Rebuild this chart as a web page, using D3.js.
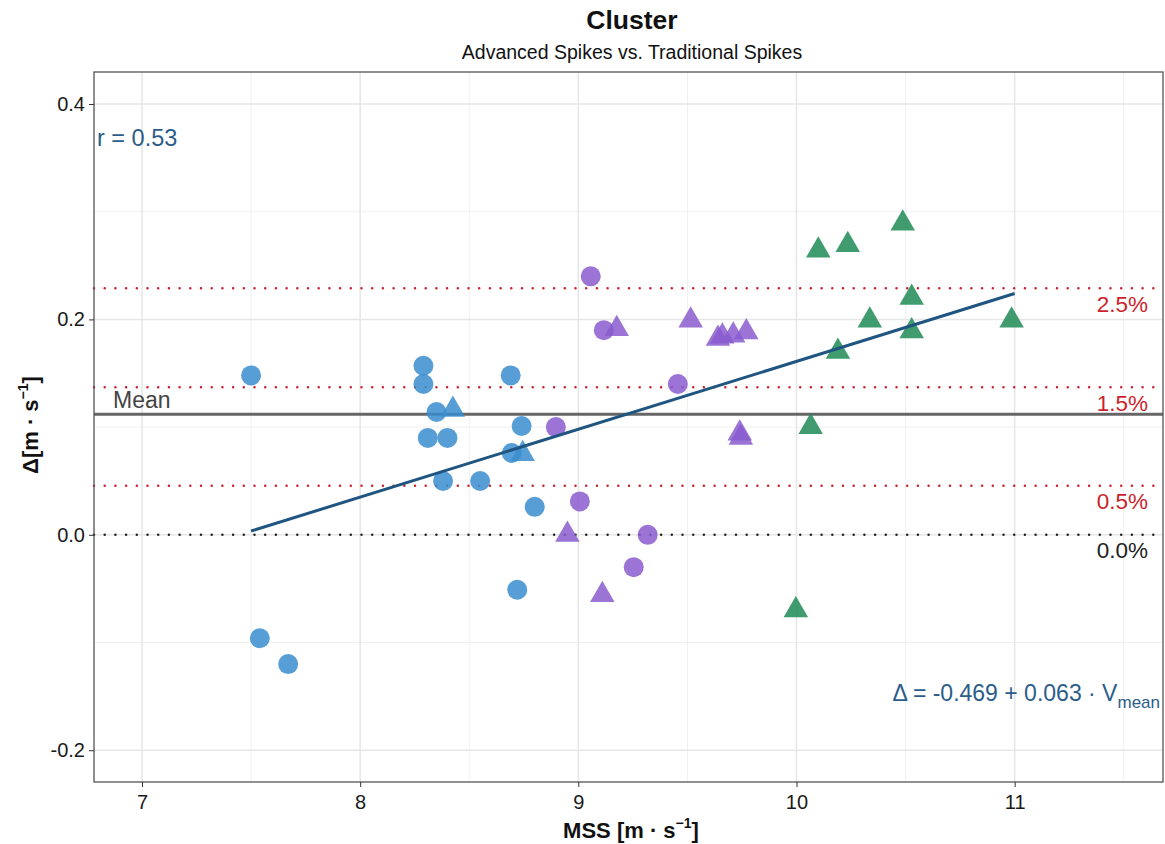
<!DOCTYPE html>
<html>
<head>
<meta charset="utf-8">
<script src="https://cdn.jsdelivr.net/npm/d3@7"></script>
<style>
  body { margin: 0; background: #fff; }
  svg { font-family: "Liberation Sans", Arial, sans-serif; }
</style>
</head>
<body>
<div id="chart"></div>
<script>
const width = 1165;
const height = 844;
const margin = { top: 72, right: 2, bottom: 62, left: 94 };

// data (MSS, delta)
const blueCircleX = [7.50, 7.54, 7.67, 8.29, 8.29, 8.35, 8.31, 8.40, 8.38, 8.55, 8.69, 8.74, 8.695, 8.80, 8.72];
const blueCircleY = [0.148, -0.096, -0.120, 0.157, 0.140, 0.114, 0.090, 0.090, 0.050, 0.050, 0.148, 0.101, 0.076, 0.026, -0.051];
const blueTriX = [8.425, 8.745];
const blueTriY = [0.118, 0.077];
const purpleCircleX = [9.057, 9.117, 9.456, 8.897, 9.007, 9.254, 9.318];
const purpleCircleY = [0.240, 0.190, 0.140, 0.100, 0.031, -0.030, 0.000];
const purpleTriX = [9.176, 9.515, 9.64, 9.66, 9.71, 9.77, 9.74, 9.745, 8.95, 9.11];
const purpleTriY = [0.193, 0.201, 0.184, 0.186, 0.187, 0.190, 0.096, 0.092, 0.002, -0.054];
const greenTriX = [10.10, 10.235, 10.487, 10.528, 10.336, 10.528, 10.986, 10.19, 10.065, 9.997];
const greenTriY = [0.266, 0.271, 0.291, 0.222, 0.201, 0.191, 0.201, 0.172, 0.102, -0.068];

const refLines = [
  { label: "2.5%", value: 0.229, color: "#cc1f2c" },
  { label: "1.5%", value: 0.137, color: "#cc1f2c" },
  { label: "0.5%", value: 0.0455, color: "#cc1f2c" },
  { label: "0.0%", value: 0.0, color: "#222" }
];
const meanValue = 0.112;
const fitIntercept = -0.469;
const fitSlope = 0.063;
const fitRange = [7.5, 11.0];
const xTicks = [7, 8, 9, 10, 11];
const yTicks = [-0.2, 0.0, 0.2, 0.4];

const blue = "#3a8dd0", purple = "#8a5ccf", green = "#1f8b55";

const svg = d3.select("#chart").append("svg")
  .attr("width", width).attr("height", height);

const x = d3.scaleLinear().domain([6.78, 11.68]).range([margin.left, width - margin.right]);
const y = d3.scaleLinear().domain([-0.2295, 0.4297]).range([height - margin.bottom, margin.top]);

// grid
const minorX = d3.range(6.5, 12, 1).filter(v => v > 6.78 && v < 11.68);
const minorY = [-0.1, 0.1, 0.3];
svg.append("g").selectAll("line").data(minorX).join("line")
  .attr("x1", d => x(d)).attr("x2", d => x(d))
  .attr("y1", margin.top).attr("y2", height - margin.bottom)
  .attr("stroke", "#f0f0f0").attr("stroke-width", 1);
svg.append("g").selectAll("line").data(minorY).join("line")
  .attr("y1", d => y(d)).attr("y2", d => y(d))
  .attr("x1", margin.left).attr("x2", width - margin.right)
  .attr("stroke", "#f0f0f0").attr("stroke-width", 1);
svg.append("g").selectAll("line").data(xTicks).join("line")
  .attr("x1", d => x(d)).attr("x2", d => x(d))
  .attr("y1", margin.top).attr("y2", height - margin.bottom)
  .attr("stroke", "#e6e6e6").attr("stroke-width", 1.5);
svg.append("g").selectAll("line").data(yTicks).join("line")
  .attr("y1", d => y(d)).attr("y2", d => y(d))
  .attr("x1", margin.left).attr("x2", width - margin.right)
  .attr("stroke", "#e6e6e6").attr("stroke-width", 1.5);

// reference lines
svg.append("g").selectAll("line").data(refLines).join("line")
  .attr("x1", margin.left).attr("x2", width - margin.right)
  .attr("y1", d => y(d.value)).attr("y2", d => y(d.value))
  .attr("stroke", d => d.color).attr("stroke-width", 2.5)
  .attr("stroke-dasharray", "0 10.7").attr("stroke-linecap", "round");
svg.append("g").selectAll("text").data(refLines).join("text")
  .attr("x", width - 17).attr("y", d => y(d.value) + 23.5)
  .attr("text-anchor", "end").attr("font-size", 22.5)
  .attr("fill", d => d.color).text(d => d.label);

svg.append("line")
  .attr("x1", margin.left).attr("x2", width - margin.right)
  .attr("y1", y(meanValue)).attr("y2", y(meanValue))
  .attr("stroke", "#666").attr("stroke-width", 3);
svg.append("text").attr("x", 113).attr("y", y(meanValue) - 6.5)
  .attr("font-size", 23).attr("fill", "#444").text("Mean");

// points
const circles = [
  ...blueCircleX.map((v, i) => ({ x: v, y: blueCircleY[i], c: blue })),
  ...purpleCircleX.map((v, i) => ({ x: v, y: purpleCircleY[i], c: purple }))
];
const triangles = [
  ...blueTriX.map((v, i) => ({ x: v, y: blueTriY[i], c: blue })),
  ...purpleTriX.map((v, i) => ({ x: v, y: purpleTriY[i], c: purple })),
  ...greenTriX.map((v, i) => ({ x: v, y: greenTriY[i], c: green }))
];
const tri = d3.symbol().type(d3.symbolTriangle).size(260);

svg.append("g").selectAll("circle").data(circles).join("circle")
  .attr("cx", d => x(d.x)).attr("cy", d => y(d.y)).attr("r", 10)
  .attr("fill", d => d.c).attr("fill-opacity", 0.85);
svg.append("g").selectAll("path").data(triangles).join("path")
  .attr("d", tri)
  .attr("transform", d => `translate(${x(d.x)},${y(d.y) + 2})`)
  .attr("fill", d => d.c).attr("fill-opacity", 0.85);

// fit line
const line = d3.line().x(d => x(d)).y(d => y(fitIntercept + fitSlope * d));
svg.append("path").attr("d", line(fitRange))
  .attr("fill", "none").attr("stroke", "#1f5580").attr("stroke-width", 3);

// panel border
svg.append("rect")
  .attr("x", margin.left).attr("y", margin.top)
  .attr("width", width - margin.right - margin.left)
  .attr("height", height - margin.bottom - margin.top)
  .attr("fill", "none").attr("stroke", "#555").attr("stroke-width", 1.3);

// axes
const xAxis = d3.axisBottom(x).tickValues(xTicks).tickFormat(d3.format("d")).tickSize(5);
const yAxis = d3.axisLeft(y).tickValues(yTicks)
  .tickFormat(d => d3.format(".1f")(d).replace("\u2212", "-")).tickSize(5);
const gx = svg.append("g").attr("transform", `translate(0,${height - margin.bottom})`).call(xAxis);
const gy = svg.append("g").attr("transform", `translate(${margin.left},0)`).call(yAxis);
[gx, gy].forEach(g => {
  g.select(".domain").remove();
  g.selectAll(".tick line").attr("stroke", "#333");
  g.selectAll(".tick text").attr("font-size", 20).attr("fill", "#1a1a1a")
    .attr("font-family", "'Liberation Sans', Arial, sans-serif");
});
gx.selectAll(".tick text").attr("dy", "0.95em");
gy.selectAll(".tick text").attr("dx", "-0.05em");

// titles
svg.append("text").attr("x", 632).attr("y", 29).attr("text-anchor", "middle")
  .attr("font-size", 26.5).attr("font-weight", "bold").attr("fill", "#111").text("Cluster");
svg.append("text").attr("x", 632).attr("y", 59).attr("text-anchor", "middle")
  .attr("font-size", 19.5).attr("fill", "#111").text("Advanced Spikes vs. Traditional Spikes");

const xl = svg.append("text").attr("x", 631).attr("y", 838).attr("text-anchor", "middle")
  .attr("font-size", 22).attr("font-weight", "bold").attr("fill", "#111");
xl.append("tspan").text("MSS [m \u00b7 s");
xl.append("tspan").attr("dy", -10).attr("font-size", 14).text("\u22121");
xl.append("tspan").attr("dy", 10).text("]");

const yl = svg.append("text").attr("transform", "translate(38,425) rotate(-90)")
  .attr("text-anchor", "middle").attr("font-size", 22).attr("font-weight", "bold").attr("fill", "#111");
yl.append("tspan").text("\u0394[m \u00b7 s");
yl.append("tspan").attr("dy", -10).attr("font-size", 14).text("\u22121");
yl.append("tspan").attr("dy", 10).text("]");

svg.append("text").attr("x", 97).attr("y", 146).attr("font-size", 23.5)
  .attr("fill", "#2c5d8a").text("r = 0.53");

const eq = svg.append("text").attr("x", 1160).attr("y", 701).attr("text-anchor", "end")
  .attr("font-size", 23).attr("fill", "#2c5d8a");
eq.append("tspan").text("\u0394 = -0.469 + 0.063 \u00b7 V");
eq.append("tspan").attr("dy", 7).attr("font-size", 17).text("mean");
</script>
</body>
</html>
